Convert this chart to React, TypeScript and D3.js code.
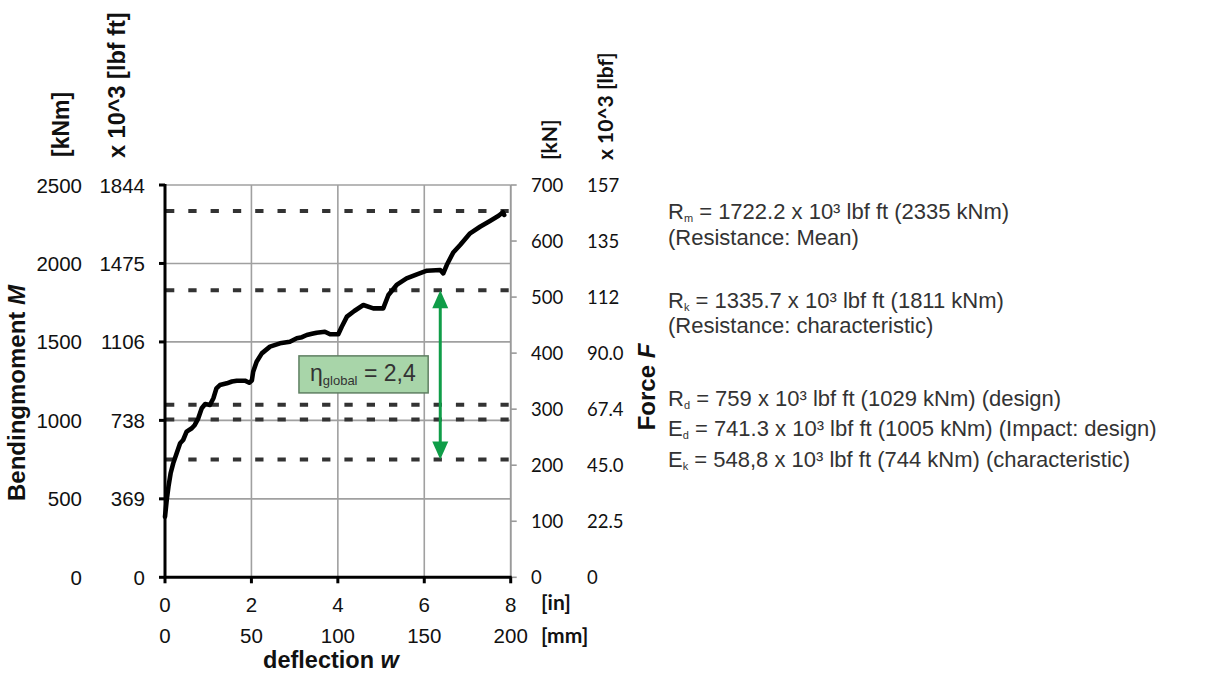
import React from 'react';
import * as d3 from 'd3';

// deflection in inches and bending moment in kNm
const curveInches = [0, 0.04, 0.08, 0.13, 0.19, 0.27, 0.35, 0.42, 0.5, 0.62, 0.69, 0.77, 0.85, 0.93, 1.04, 1.12, 1.19, 1.27, 1.43, 1.55, 1.66, 1.85, 1.95, 2.01, 2.04, 2.12, 2.24, 2.43, 2.66, 2.89, 3.05, 3.17, 3.28, 3.4, 3.51, 3.7, 3.82, 4.01, 4.09, 4.21, 4.38, 4.59, 4.82, 5.05, 5.17, 5.36, 5.59, 5.83, 6.06, 6.37, 6.44, 6.52, 6.67, 6.83, 7.06, 7.29, 7.52, 7.72, 7.82, 7.85];
const curveMoment = [386, 493, 577, 663, 726, 790, 854, 875, 928, 950, 971, 1013, 1077, 1104, 1098, 1141, 1204, 1225, 1236, 1248, 1253, 1253, 1240, 1254, 1310, 1374, 1427, 1470, 1491, 1501, 1523, 1530, 1544, 1552, 1559, 1565, 1549, 1549, 1597, 1661, 1697, 1735, 1714, 1714, 1799, 1863, 1905, 1931, 1954, 1958, 1937, 1990, 2070, 2118, 2192, 2234, 2271, 2304, 2326, 2309];

// dashed reference levels (kNm) as drawn
const refLevels = [2335, 1830, 1100, 1005, 750];

const kNmTicks = [0, 500, 1000, 1500, 2000, 2500];
const lbfFtTicks = ['0', '369', '738', '1106', '1475', '1844'];
const kNTicks = [0, 100, 200, 300, 400, 500, 600, 700];
const lbfTicks = ['0', '22.5', '45.0', '67.4', '90.0', '112', '135', '157'];
const inTicks = [0, 2, 4, 6, 8];
const mmTicks = [0, 50, 100, 150, 200];

const legendSymbols = ['R', 'R', 'R', 'E', 'E'];
const legendSubs = ['m', 'k', 'd', 'd', 'k'];
const legendTexts = [
  ' = 1722.2 x 10³ lbf ft (2335 kNm)',
  ' = 1335.7 x 10³ lbf ft (1811 kNm)',
  ' = 759 x 10³ lbf ft (1029 kNm) (design)',
  ' = 741.3 x 10³ lbf ft (1005 kNm) (Impact: design)',
  ' = 548,8 x 10³ lbf ft (744 kNm) (characteristic)',
];
const legendNotes = ['(Resistance: Mean)', '(Resistance: characteristic)', '', '', ''];
const etaValue = '2,4';
const arrowInch = 6.37;

const ARIAL = '"Liberation Sans", Arial, sans-serif';
const CAL = 'Lato, "Open Sans", sans-serif';

export default function App() {
  const x = d3.scaleLinear().domain([0, 8]).range([165, 510.7]);
  const xmm = d3.scaleLinear().domain([0, 200]).range([165, 510.7]);
  const y = d3.scaleLinear().domain([0, 2500]).range([577.3, 185]);
  const yF = d3.scaleLinear().domain([0, 700]).range([577.3, 185]);

  const pts: [number, number][] = curveInches.map((v, i) => [v, curveMoment[i]]);
  const line = d3.line<[number, number]>().x(d => x(d[0])).y(d => y(d[1])).curve(d3.curveLinear);

  const x0 = x(0), x1 = x(8), y0 = y(0), yTop = y(2500);
  const ax = x(arrowInch);
  const aTop = y(refLevels[1]);
  const aBot = y(refLevels[4]);
  const green = '#0f9d48';

  const legendBase = [219, 307.5, 406, 436, 466.5];
  const noteBase = [245, 333];

  const boxX0 = x(3.1), boxX1 = x(6.09), boxY0 = y(1411), boxY1 = y(1175);

  return (
    <svg width={1220} height={677} style={{ position: 'absolute', left: 0, top: 0, background: '#fff' }}>
      <rect x={0} y={0} width={1220} height={677} fill="#fff" />
      {/* grid */}
      {kNmTicks.map(t => (
        <line key={'hg' + t} x1={x0} x2={x1} y1={y(t)} y2={y(t)} stroke="#a0a0a0" strokeWidth={1.6} />
      ))}
      {inTicks.map(t => (
        <line key={'vg' + t} x1={x(t)} x2={x(t)} y1={yTop} y2={y0} stroke="#a0a0a0" strokeWidth={1.6} />
      ))}
      {/* right axis */}
      <line x1={x1} x2={x1} y1={yTop} y2={y0} stroke="#9a9a9a" strokeWidth={1.6} />
      {kNTicks.map(t => (
        <line key={'rt' + t} x1={x1} x2={x1 + 6} y1={yF(t)} y2={yF(t)} stroke="#9a9a9a" strokeWidth={1.6} />
      ))}
      {/* dashed reference lines */}
      {refLevels.map((v, i) => (
        <line key={'ref' + i} x1={x0 + 1} x2={x1 - 2} y1={y(v)} y2={y(v)} stroke="#333" strokeWidth={4} strokeDasharray="8.3 14" />
      ))}
      {/* curve */}
      <path d={line(pts) || ''} fill="none" stroke="#000" strokeWidth={4.6} strokeLinejoin="round" strokeLinecap="round" />
      {/* left and bottom axes */}
      <line x1={x0} x2={x0} y1={yTop - 1} y2={y0 + 1} stroke="#000" strokeWidth={3} />
      {kNmTicks.map(t => (
        <line key={'lt' + t} x1={x0 - 6} x2={x0} y1={y(t)} y2={y(t)} stroke="#000" strokeWidth={3} />
      ))}
      <line x1={x0 - 1} x2={x1 + 1} y1={y0} y2={y0} stroke="#000" strokeWidth={3} />
      {inTicks.map(t => (
        <line key={'bt' + t} x1={x(t)} x2={x(t)} y1={y0} y2={y0 + 6} stroke="#000" strokeWidth={3} />
      ))}
      {/* left tick labels */}
      {kNmTicks.map(t => (
        <text key={'ll' + t} x={82} y={y(t) + 7.5} textAnchor="end" fontFamily={ARIAL} fontSize={20.5} fill="#111">{t}</text>
      ))}
      {kNmTicks.map((t, i) => (
        <text key={'ll2' + t} x={145} y={y(t) + 7.5} textAnchor="end" fontFamily={ARIAL} fontSize={20.5} fill="#111">{lbfFtTicks[i]}</text>
      ))}
      {/* right tick labels */}
      {kNTicks.map(t => (
        <text key={'rl' + t} x={531} y={yF(t) + 7} fontFamily={CAL} fontSize={18.5} fill="#111">{t}</text>
      ))}
      {kNTicks.map((t, i) => (
        <text key={'rl2' + t} x={587} y={yF(t) + 7} fontFamily={CAL} fontSize={18.5} fill="#111">{lbfTicks[i]}</text>
      ))}
      {/* bottom tick labels */}
      {inTicks.map(t => (
        <text key={'bl' + t} x={x(t)} y={612} textAnchor="middle" fontFamily={ARIAL} fontSize={20.5} fill="#111">{t}</text>
      ))}
      {mmTicks.map(t => (
        <text key={'bm' + t} x={xmm(t)} y={643} textAnchor="middle" fontFamily={ARIAL} fontSize={20.5} fill="#111">{t}</text>
      ))}
      <text x={541} y={610} fontFamily={CAL} fontWeight="bold" fontSize={21} fill="#111">[in]</text>
      <text x={541} y={643} fontFamily={CAL} fontWeight="bold" fontSize={21} fill="#111">[mm]</text>
      <text x={331} y={668} textAnchor="middle" fontFamily={ARIAL} fontWeight="bold" fontSize={23.5} fill="#111">
        deflection <tspan fontStyle="italic">w</tspan>
      </text>
      {/* axis titles */}
      <text transform={`translate(25,393) rotate(-90)`} textAnchor="middle" fontFamily={ARIAL} fontWeight="bold" fontSize={24} fill="#111">
        Bendingmoment <tspan fontStyle="italic">M</tspan>
      </text>
      <text transform={`translate(69,157) rotate(-90)`} fontFamily={ARIAL} fontWeight="bold" fontSize={23} fill="#111">[kNm]</text>
      <text transform={`translate(125,158) rotate(-90)`} fontFamily={ARIAL} fontWeight="bold" fontSize={23.5} fill="#111">x 10^3 [lbf ft]</text>
      <text transform={`translate(557,160) rotate(-90)`} fontFamily={CAL} fontWeight="bold" fontSize={21} fill="#111">[kN]</text>
      <text transform={`translate(613,160) rotate(-90)`} fontFamily={CAL} fontWeight="bold" fontSize={21} fill="#111">x 10^3 [lbf]</text>
      <text transform={`translate(655,387) rotate(-90)`} textAnchor="middle" fontFamily={ARIAL} fontWeight="bold" fontSize={24} fill="#111">
        Force <tspan fontStyle="italic">F</tspan>
      </text>
      {/* eta box */}
      <rect x={boxX0} y={boxY0} width={boxX1 - boxX0} height={boxY1 - boxY0} fill="#a8d5a9" stroke="#5f7f62" strokeWidth={1.5} />
      <text x={310} y={381} fontFamily={ARIAL} fontSize={23} fill="#333">
        η<tspan fontSize={13} dy={4}>global</tspan><tspan dy={-4}> = {etaValue}</tspan>
      </text>
      {/* green arrow */}
      <line x1={ax} x2={ax} y1={aTop + 16} y2={aBot - 16} stroke={green} strokeWidth={3} />
      <path d={`M${ax},${aTop} L${ax - 8},${aTop + 18} L${ax + 8},${aTop + 18} Z`} fill={green} />
      <path d={`M${ax},${aBot} L${ax - 8},${aBot - 18} L${ax + 8},${aBot - 18} Z`} fill={green} />
      {/* legend text */}
      {legendSymbols.map((s, i) => (
        <text key={'lg' + i} x={668} y={legendBase[i]} fontFamily={ARIAL} fontSize={22} fill="#333">
          {s}<tspan fontSize={11} dy={3}>{legendSubs[i]}</tspan><tspan dy={-3}>{legendTexts[i]}</tspan>
        </text>
      ))}
      {legendNotes.filter(n => n).map((n, i) => (
        <text key={'ln' + i} x={668} y={noteBase[i]} fontFamily={ARIAL} fontSize={22} fill="#333">{n}</text>
      ))}
    </svg>
  );
}
